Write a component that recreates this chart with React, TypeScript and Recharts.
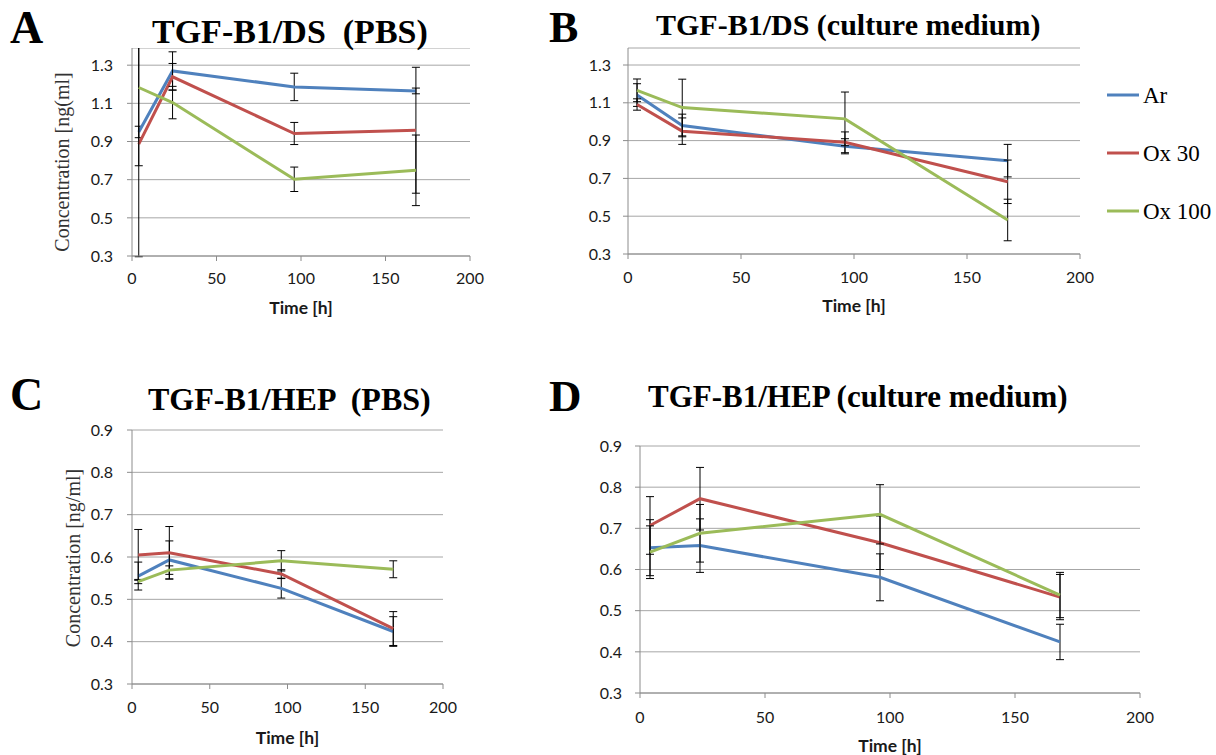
import React from 'react';
import { LineChart, Line, XAxis, YAxis, CartesianGrid, ErrorBar } from 'recharts';

// ---------- data ----------
const times = [4, 24, 96, 168];
const seriesNames = ['Ar', 'Ox 30', 'Ox 100'];
const seriesColors = ['#4F81BD', '#C0504D', '#9BBB59'];
const xTicks = [0, 50, 100, 150, 200];
const dsTicks = [0.3, 0.5, 0.7, 0.9, 1.1, 1.3];
const hepTicks = [0.3, 0.4, 0.5, 0.6, 0.7, 0.8, 0.9];

// A: TGF-B1/DS (PBS)
const aAr = [0.95, 1.27, 1.186, 1.165];
const aArErr = [0.03, 0.1, 0.072, 0.015];
const aOx30 = [0.886, 1.239, 0.942, 0.959];
const aOx30Err: (number | number[])[] = [[0.59, 0.6], 0.07, 0.058, 0.33];
const aOx100 = [1.183, 1.104, 0.702, 0.749];
const aOx100Err = [0.41, 0.085, 0.064, 0.185];

// B: TGF-B1/DS (culture medium)
const bAr = [1.141, 0.98, 0.87, 0.794];
const bArErr = [0.06, 0.06, 0.04, 0.086];
const bOx30 = [1.091, 0.95, 0.891, 0.682];
const bOx30Err = [0.03, 0.07, 0.055, 0.115];
const bOx100 = [1.166, 1.075, 1.015, 0.48];
const bOx100Err = [0.06, 0.15, 0.142, 0.11];

// C: TGF-B1/HEP (PBS)
const cAr = [0.555, 0.593, 0.526, 0.424];
const cArErr = [0.033, 0.045, 0.023, 0.035];
const cOx30 = [0.605, 0.61, 0.56, 0.431];
const cOx30Err = [0.06, 0.062, 0.01, 0.04];
const cOx100 = [0.542, 0.569, 0.591, 0.571];
const cOx100Err = [0.005, 0.01, 0.024, 0.02];

// D: TGF-B1/HEP (culture medium)
const dAr = [0.653, 0.658, 0.581, 0.424];
const dArErr = [0.068, 0.065, 0.057, 0.043];
const dOx30 = [0.707, 0.772, 0.665, 0.533];
const dOx30Err = [0.07, 0.076, 0.065, 0.055];
const dOx100 = [0.642, 0.688, 0.734, 0.538];
const dOx100Err = [0.064, 0.07, 0.072, 0.055];

function buildRows(vals: number[][], errs: any[][]) {
  return times.map((t, i) => ({
    t,
    s0: vals[0][i], e0: errs[0][i],
    s1: vals[1][i], e1: errs[1][i],
    s2: vals[2][i], e2: errs[2][i],
  }));
}

const dataA = buildRows([aAr, aOx30, aOx100], [aArErr, aOx30Err, aOx100Err]);
const dataB = buildRows([bAr, bOx30, bOx100], [bArErr, bOx30Err, bOx100Err]);
const dataC = buildRows([cAr, cOx30, cOx100], [cArErr, cOx30Err, cOx100Err]);
const dataD = buildRows([dAr, dOx30, dOx100], [dArErr, dOx30Err, dOx100Err]);

// ---------- styles ----------
const GRID = '#a6a6a6';
const AXIS = '#8c8c8c';
const TICK_FONT = { fontFamily: 'Lato, "Open Sans", sans-serif', fontSize: 16, fill: '#1a1a1a' };
const SERIF = '"Liberation Serif", "Times New Roman", serif';

const XTitle = (props: any) => {
  const { viewBox, dy } = props;
  if (!viewBox) return null;
  const cx = viewBox.x + viewBox.width / 2;
  return (
    <text x={cx} y={viewBox.y + dy} textAnchor="middle" dominantBaseline="central"
      style={{ fontFamily: 'Lato, sans-serif', fontWeight: 700, fontSize: 17.5, fill: '#1a1a1a' }}>
      Time [h]
    </text>
  );
};

const YTitle = (props: any) => {
  const { lx, ly, text } = props;
  return (
    <text x={lx} y={ly} textAnchor="middle" dominantBaseline="central" transform={`rotate(-90 ${lx} ${ly})`}
      style={{ fontFamily: SERIF, fontSize: 20, fill: '#333' }}>
      {text}
    </text>
  );
};

type PanelProps = {
  data: any[];
  left: number; top: number; width: number; height: number;
  margin: { top: number; right: number; bottom: number; left: number };
  yWidth: number; xHeight: number;
  yDomain: [number, number]; yTicks: number[];
  yTickMargin: number; xTickMargin: number; xTitleDy: number;
  yTitle?: { text: string; lx: number; ly: number };
  clipTop?: number;
};

function Panel(p: PanelProps) {
  return (
    <div style={{ position: 'absolute', left: p.left, top: p.top, width: p.width, height: p.height,
      clipPath: p.clipTop ? `inset(${p.clipTop}px 0px 0px 0px)` : undefined }}>
      <LineChart width={p.width} height={p.height} data={p.data} margin={p.margin}>
        <CartesianGrid vertical={false} stroke={GRID} strokeWidth={1} />
        <XAxis dataKey="t" type="number" domain={[0, 200]} ticks={xTicks} height={p.xHeight}
          stroke={AXIS} tickSize={5} tickMargin={p.xTickMargin} tick={TICK_FONT}
          tickLine={{ stroke: AXIS }} interval={0}
          label={<XTitle dy={p.xTitleDy} />} />
        <YAxis type="number" domain={p.yDomain} ticks={p.yTicks} width={p.yWidth} allowDataOverflow
          stroke={AXIS} tickSize={5} tickMargin={p.yTickMargin} tick={TICK_FONT} interval={0}
          tickFormatter={(v: number) => v.toFixed(1)}
          label={p.yTitle ? <YTitle text={p.yTitle.text} lx={p.yTitle.lx} ly={p.yTitle.ly} /> : undefined} />
        {[0, 1, 2].map((k) => (
          <Line key={k} type="linear" dataKey={`s${k}`} name={seriesNames[k]} stroke={seriesColors[k]}
            strokeWidth={3} dot={false} activeDot={false} isAnimationActive={false}>
            <ErrorBar dataKey={`e${k}`} direction="y" width={4} stroke="#000" strokeWidth={1} />
          </Line>
        ))}
      </LineChart>
    </div>
  );
}

const titleStyle = (size: number): React.CSSProperties => ({
  fontFamily: SERIF, fontWeight: 700, fontSize: size, fill: '#000', whiteSpace: 'pre',
});

export default function App() {
  return (
    <div style={{ position: 'absolute', left: 0, top: 0, width: 1216, height: 755, background: '#fff', overflow: 'hidden' }}>
      <Panel data={dataA} left={0} top={0} width={490} height={330} clipTop={48}
        margin={{ top: 48, right: 20, bottom: 0, left: 0 }} yWidth={132} xHeight={74}
        yDomain={[0.3, 1.39]} yTicks={dsTicks} yTickMargin={14} xTickMargin={12} xTitleDy={51}
        yTitle={{ text: 'Concentration [ng(ml]', lx: 62, ly: 162 }} />
      <Panel data={dataB} left={540} top={0} width={560} height={330}
        margin={{ top: 48, right: 20, bottom: 0, left: 0 }} yWidth={88} xHeight={76}
        yDomain={[0.3, 1.39]} yTicks={dsTicks} yTickMargin={12} xTickMargin={13} xTitleDy={51} />
      <Panel data={dataC} left={0} top={360} width={470} height={395}
        margin={{ top: 70, right: 27, bottom: 0, left: 0 }} yWidth={132} xHeight={71}
        yDomain={[0.3, 0.9]} yTicks={hepTicks} yTickMargin={14} xTickMargin={13} xTitleDy={53}
        yTitle={{ text: 'Concentration [ng/ml]', lx: 73, ly: 198 }} />
      <Panel data={dataD} left={540} top={360} width={620} height={395}
        margin={{ top: 86, right: 20, bottom: 0, left: 0 }} yWidth={100} xHeight={62}
        yDomain={[0.3, 0.9]} yTicks={hepTicks} yTickMargin={13} xTickMargin={14} xTitleDy={52} />

      <svg width={1216} height={755} style={{ position: 'absolute', left: 0, top: 0, pointerEvents: 'none' }}>
        <text x={10} y={43} style={titleStyle(46)}>A</text>
        <text x={152} y={43} style={titleStyle(34)}>{'TGF-B1/DS  (PBS)'}</text>
        <text x={549} y={42} style={titleStyle(44)}>B</text>
        <text x={656} y={35} style={titleStyle(30)}>{'TGF-B1/DS (culture medium)'}</text>
        <text x={10} y={410} style={titleStyle(46)}>C</text>
        <text x={148} y={410} style={titleStyle(32)}>{'TGF-B1/HEP  (PBS)'}</text>
        <text x={549} y={411} style={titleStyle(45)}>D</text>
        <text x={648} y={407} style={titleStyle(31)}>{'TGF-B1/HEP (culture medium)'}</text>
        {seriesNames.map((n, k) => (
          <g key={n}>
            <line x1={1107} x2={1139} y1={95 + k * 58} y2={95 + k * 58} stroke={seriesColors[k]} strokeWidth={3} />
            <text x={1143} y={95 + k * 58} dominantBaseline="central" style={{ fontFamily: SERIF, fontSize: 23, fill: '#000' }}>{n}</text>
          </g>
        ))}
      </svg>
    </div>
  );
}
